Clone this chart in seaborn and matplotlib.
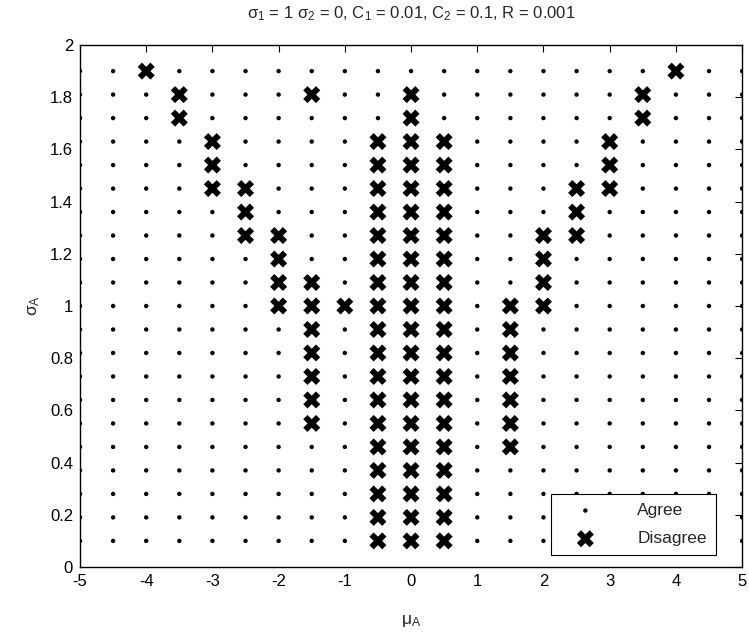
import matplotlib
import numpy as np
import pandas as pd
import seaborn as sns

matplotlib.use("Agg")
import matplotlib.pyplot as plt

# grid of (mu_A, sigma_A) values that were tested
MU_VALUES = [-5, -4.5, -4, -3.5, -3, -2.5, -2, -1.5, -1, -0.5, 0,
             0.5, 1, 1.5, 2, 2.5, 3, 3.5, 4, 4.5, 5]
SIGMA_VALUES = [0.10, 0.19, 0.28, 0.37, 0.46, 0.55, 0.64, 0.73, 0.82, 0.91, 1.00,
                1.09, 1.18, 1.27, 1.36, 1.45, 1.54, 1.63, 1.72, 1.81, 1.90]

# sigma_A values where the two criteria disagree, per mu_A column
DISAGREE_SIGMA = {
    -4: [1.90],
    -3.5: [1.72, 1.81],
    -3: [1.45, 1.54, 1.63],
    -2.5: [1.27, 1.36, 1.45],
    -2: [1.00, 1.09, 1.18, 1.27],
    -1.5: [0.55, 0.64, 0.73, 0.82, 0.91, 1.00, 1.09, 1.81],
    -1: [1.00],
    -0.5: SIGMA_VALUES[:18],
    0: SIGMA_VALUES[:20],
    0.5: SIGMA_VALUES[:18],
    1.5: [0.46, 0.55, 0.64, 0.73, 0.82, 0.91, 1.00],
    2: [1.00, 1.09, 1.18, 1.27],
    2.5: [1.27, 1.36, 1.45],
    3: [1.45, 1.54, 1.63],
    3.5: [1.72, 1.81],
    4: [1.90],
}

TITLE = r"$\sigma_1$ = 1 $\sigma_2$ = 0, C$_1$ = 0.01, C$_2$ = 0.1, R = 0.001"


def build_frame() -> pd.DataFrame:
    rows = []
    for mu in MU_VALUES:
        bad = DISAGREE_SIGMA.get(mu, [])
        for sigma in SIGMA_VALUES:
            hit = any(abs(sigma - b) < 1e-6 for b in bad)
            rows.append({"mu": mu, "sigma": sigma,
                         "outcome": "Disagree" if hit else "Agree"})
    return pd.DataFrame(rows)


def main() -> None:
    sns.set_style("white")
    plt.rcParams["font.family"] = ["Liberation Sans", "DejaVu Sans"]
    plt.rcParams["mathtext.default"] = "regular"
    plt.rcParams["axes.unicode_minus"] = False
    plt.rcParams["font.size"] = 12

    df = build_frame()
    agree = df[df["outcome"] == "Agree"]
    disagree = df[df["outcome"] == "Disagree"]

    fig = plt.figure(figsize=(7.49, 6.34), dpi=100)
    ax = fig.add_axes([0.1068, 0.1057, 0.884, 0.8233])

    sns.scatterplot(data=agree, x="mu", y="sigma", marker="o", s=10,
                    color="black", edgecolor="none", label="Agree", ax=ax)
    sns.scatterplot(data=disagree, x="mu", y="sigma", marker="X", s=150,
                    color="black", edgecolor="none", label="Disagree", ax=ax)

    ax.set_xlim(-5, 5)
    ax.set_ylim(0, 2)
    ax.set_xticks(np.arange(-5, 6, 1))
    ax.set_yticks(np.round(np.arange(0, 2.01, 0.2), 1))
    ax.set_yticklabels(["0", "0.2", "0.4", "0.6", "0.8", "1",
                        "1.2", "1.4", "1.6", "1.8", "2"])
    ax.tick_params(direction="in", top=True, right=True, length=5,
                   width=0.8, colors="black", labelsize=12, pad=5)
    for side in ax.spines.values():
        side.set_color("black")
        side.set_linewidth(1.0)

    ax.set_xlabel(r"$\mu_A$", fontsize=12.5, labelpad=17)
    ax.set_ylabel(r"$\sigma_A$", fontsize=12.5, labelpad=6)
    ax.set_title(TITLE, fontsize=12, pad=19)

    leg = ax.legend(loc="lower right", frameon=True, fancybox=False,
                    edgecolor="black", framealpha=1, fontsize=12.5,
                    borderpad=0.5, labelspacing=0.75, handlelength=3.0,
                    handletextpad=1.5, borderaxespad=0,
                    bbox_to_anchor=(0.96, 0.023))
    leg.get_frame().set_linewidth(0.8)

    fig.savefig("out.png", dpi=100, facecolor="white")
    plt.close(fig)


if __name__ == "__main__":
    main()
